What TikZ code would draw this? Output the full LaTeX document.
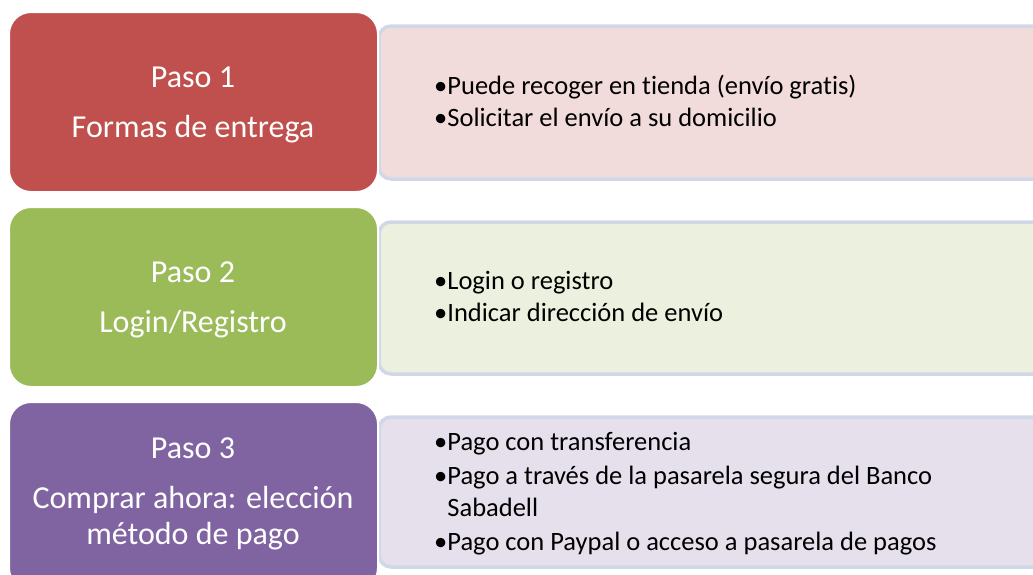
\documentclass[tikz,border=0pt]{standalone}
\usepackage{fontspec}
\setmainfont{Carlito}[Ligatures={NoCommon}]
\definecolor{redA}{HTML}{C0504D}
\definecolor{greenA}{HTML}{9BBB59}
\definecolor{purpleA}{HTML}{8064A2}
\definecolor{redL}{HTML}{F2DCDB}
\definecolor{greenL}{HTML}{EBF1DE}
\definecolor{purpleL}{HTML}{E5E0EC}
\definecolor{edgeL}{HTML}{D0D8E8}
\newcommand{\bl}{\textbullet}
\newcommand{\bh}{\hphantom{\textbullet}}
\tikzset{
  x=1pt, y=-1pt,
  stepbox/.style={draw=white, line width=2pt, rounded corners=22pt},
  steptext/.style={text=white, font=\fontsize{32}{36}\selectfont, align=center, inner sep=0pt},
  infobox/.style={draw=edgeL, line width=3.5pt, rounded corners=12pt},
  infotext/.style={text=black, font=\fontsize{26.5}{32}\selectfont, align=left, anchor=west, inner sep=0pt},
}
\begin{document}
\begin{tikzpicture}
\useasboundingbox (0,0) rectangle (1033,574);
% row 1
\draw[infobox, fill=redL] (379,26) rectangle (1045,179);
\draw[stepbox, fill=redA] (9,12) rectangle (378,192);
\node[infotext] (t1) at (434,101) {\bl Puede recoger en tienda (envío gratis)\\\bl Solicitar el envío a su domicilio};
\node[steptext] (p1) at (193,105) {Paso 1\\[14pt]Formas de entrega};
% row 2
\draw[infobox, fill=greenL] (379,222) rectangle (1045,374);
\draw[stepbox, fill=greenA] (9,207) rectangle (378,387);
\node[infotext] (t2) at (434,296) {\bl Login o registro\\\bl Indicar dirección de envío};
\node[steptext] (p2) at (193,300) {Paso 2\\[14pt]Login/Registro};
% row 3
\draw[infobox, fill=purpleL] (379,417) rectangle (1045,567);
\draw[stepbox, fill=purpleA] (9,402) rectangle (378,590);
\node[infotext] (t3) at (434,494) {\bl Pago con transferencia\\[2pt]\bl Pago a través de la pasarela segura del Banco\\\bh Sabadell\\[2pt]\bl Pago con Paypal o acceso a pasarela de pagos};
\node[steptext] (p3) at (193,494) {Paso 3\\[14pt]Comprar ahora: elección\\método de pago};
\end{tikzpicture}
\end{document}
